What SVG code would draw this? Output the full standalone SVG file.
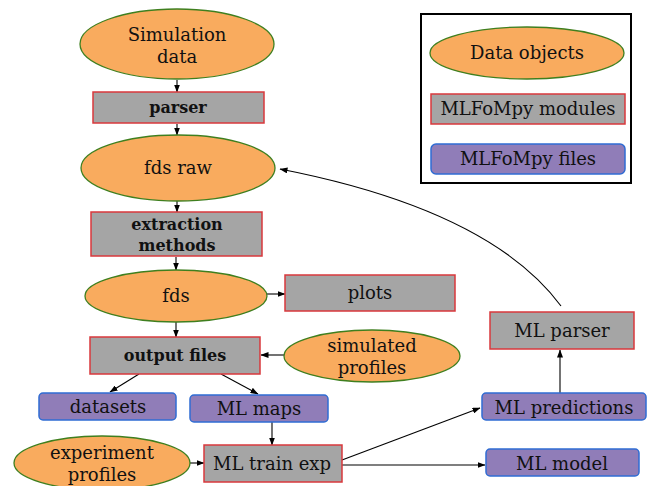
<svg xmlns="http://www.w3.org/2000/svg" width="654" height="486" viewBox="0 0 654 486">
<defs>
<marker id="ah" markerWidth="8" markerHeight="6" refX="7.5" refY="3" orient="auto" markerUnits="userSpaceOnUse">
<path d="M0,0 L8,3 L0,6 Z" fill="#000"/>
</marker>
<style>
.data{fill:#F9AB5E;stroke:#3F7F1F;stroke-width:1.3}
.mod{fill:#A5A5A5;stroke:#D9393C;stroke-width:1.5}
.file{fill:#907DB8;stroke:#2F6CD3;stroke-width:1.5}
text{font-family:"DejaVu Serif",serif;font-size:18px;fill:#111;text-anchor:middle}
.b{font-weight:bold;font-size:16px}
.c{fill:none;stroke:#000;stroke-width:1.1;marker-end:url(#ah)}
</style>
</defs>
<rect width="654" height="486" fill="#fff"/>
<g id="legend">
<rect x="421" y="14" width="210" height="169" fill="#fff" stroke="#000" stroke-width="2"/>
<ellipse class="data" cx="527" cy="53" rx="97" ry="26"/>
<text x="527" y="59">Data objects</text>
<rect class="mod" x="431" y="94" width="194" height="30"/>
<text x="528" y="115">MLFoMpy modules</text>
<rect class="file" x="431" y="144" width="194" height="30" rx="5"/>
<text x="528" y="165">MLFoMpy files</text>
</g>

<g id="connectors">
<line class="c" x1="177" y1="80" x2="177" y2="92"/>
<line class="c" x1="177" y1="124" x2="177" y2="135"/>
<line class="c" x1="177" y1="201" x2="177" y2="212"/>
<line class="c" x1="176" y1="257" x2="176" y2="270"/>
<line class="c" x1="176" y1="322" x2="176" y2="337"/>
<line class="c" x1="267" y1="294" x2="285" y2="294"/>
<line class="c" x1="285" y1="355" x2="261" y2="355"/>
<line class="c" x1="139" y1="374" x2="110" y2="392"/>
<line class="c" x1="221" y1="374" x2="258" y2="394"/>
<line class="c" x1="272" y1="422" x2="272" y2="445"/>
<line class="c" x1="190" y1="463" x2="204" y2="463"/>
<line class="c" x1="342" y1="460" x2="480" y2="408"/>
<line class="c" x1="342" y1="465" x2="485" y2="465"/>
<line class="c" x1="560" y1="393" x2="560" y2="350"/>
<path class="c" d="M561,306 Q490,210 280,169"/>
</g>

<g id="simulation_data">
<ellipse class="data" cx="177" cy="44" rx="97" ry="35"/>
<text x="177" y="41">Simulation</text>
<text x="177" y="63">data</text>
</g>
<g id="parser">
<rect class="mod" x="93" y="92" width="171" height="31"/>
<text class="b" x="178" y="113">parser</text>
</g>
<g id="fds_raw">
<ellipse class="data" cx="178" cy="168" rx="97" ry="33"/>
<text x="178" y="174">fds raw</text>
</g>
<g id="extraction_methods">
<rect class="mod" x="91" y="212" width="171" height="44"/>
<text class="b" x="177" y="230">extraction</text>
<text class="b" x="177" y="251">methods</text>
</g>
<g id="fds">
<ellipse class="data" cx="176" cy="296" rx="91" ry="26"/>
<text x="176" y="302">fds</text>
</g>
<g id="plots">
<rect class="mod" x="285" y="275" width="170" height="36"/>
<text x="370" y="299">plots</text>
</g>
<g id="output_files">
<rect class="mod" x="90" y="337" width="170" height="37"/>
<text class="b" x="175" y="361">output files</text>
</g>
<g id="simulated_profiles">
<ellipse class="data" cx="372" cy="356" rx="88" ry="26"/>
<text x="372" y="352">simulated</text>
<text x="372" y="374">profiles</text>
</g>
<g id="datasets">
<rect class="file" x="39" y="393" width="137" height="27" rx="4"/>
<text x="108" y="413">datasets</text>
</g>
<g id="ml_maps">
<rect class="file" x="190" y="395" width="138" height="27" rx="4"/>
<text x="259" y="415">ML maps</text>
</g>
<g id="experiment_profiles">
<ellipse class="data" cx="102" cy="463" rx="88" ry="27"/>
<text x="102" y="459">experiment</text>
<text x="102" y="481">profiles</text>
</g>
<g id="ml_train_exp">
<rect class="mod" x="204" y="445" width="138" height="37"/>
<text x="272" y="470">ML train exp</text>
</g>
<g id="ml_predictions">
<rect class="file" x="482" y="393" width="164" height="27" rx="4"/>
<text x="564" y="414">ML predictions</text>
</g>
<g id="ml_model">
<rect class="file" x="486" y="449" width="153" height="27" rx="4"/>
<text x="562" y="470">ML model</text>
</g>
<g id="ml_parser">
<rect class="mod" x="490" y="312" width="144" height="37"/>
<text x="562" y="337">ML parser</text>
</g>
</svg>
